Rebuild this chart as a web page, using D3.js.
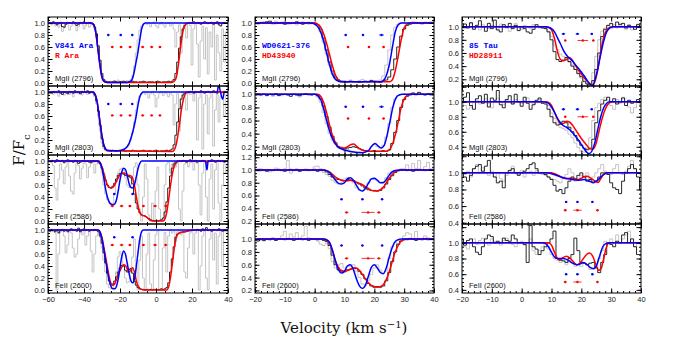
<!DOCTYPE html>
<html>
<head>
<meta charset="utf-8">
<script src="https://cdn.jsdelivr.net/npm/d3@7"></script>
<style>
  body { margin: 0; background: #fff; }
  svg { display: block; }
</style>
</head>
<body>
<div id="chart"></div>
<script>
"use strict";

// velocity bins of the observed spectra (km/s)
const velL = d3.range(-60, 41, 1);
const velMR = d3.range(-20, 41, 1);

// ---------- left column: V841 Ara (blue/grey) vs R Ara (red/black)
const blackL1 = [1.00,1.01,0.99,1.02,1.00,0.97,0.99,1.01,0.94,0.93,0.98,1.01,1.00,0.99,1.02,1.00,0.96,0.98,1.01,1.00,1.02,0.99,1.00,1.01,0.99,
  0.98,0.93,0.82,0.62,0.38,0.16,0.06,0.03,0.02,
  0.02,0.01,0.02,0.03,0.02,0.01,0.02,0.02,0.03,0.02,0.01,0.02,0.02,0.03,0.02,0.02,0.01,0.02,0.02,0.03,0.02,0.01,0.02,0.02,0.02,0.01,0.02,0.03,0.02,0.01,0.02,0.02,0.02,0.03,0.02,0.03,
  0.06,0.16,0.35,0.58,0.77,0.90,0.96,0.99,1.00,
  1.01,0.99,1.02,1.00,1.01,0.99,0.98,1.00,1.02,1.01,0.99,1.00,1.01,0.98,1.00,1.02,0.97,0.95,0.99,1.01,1.00,1.00];
const greyL1 = [0.98,1.00,0.97,1.01,0.95,0.99,0.93,0.97,0.86,0.92,0.99,0.97,0.88,0.95,1.00,0.97,0.87,0.94,1.01,0.98,0.90,0.96,0.99,0.93,0.97,
  0.97,0.90,0.78,0.55,0.30,0.12,0.05,0.03,0.02,
  0.02,0.03,0.01,0.04,0.02,0.05,0.02,0.03,0.01,0.02,0.04,0.03,0.06,
  0.12,0.28,0.50,0.72,0.88,0.95,0.98,
  1.00,0.97,1.01,0.94,0.99,1.02,0.96,0.92,0.98,1.01,0.97,0.93,0.99,1.00,0.95,0.98,
  0.90,0.60,0.85,0.97,0.50,0.92,0.99,0.75,1.00,0.96,0.30,0.90,0.98,0.65,0.10,0.70,0.95,0.40,0.92,0.15,0.85,0.60,0.98,0.05,0.80,0.50,0.20,0.90,0.35,0.85,0.95];
const blueL1 = [[-60,1],[-36,1],[-34.5,0.97],[-33.5,0.85],[-32.5,0.62],[-31.5,0.38],[-30.5,0.17],[-29.5,0.05],[-28.5,0.02],[-27,0.01],[-16,0.01],[-14,0.03],[-13,0.08],[-12,0.2],[-11,0.36],[-10,0.52],[-9,0.72],[-8,0.9],[-7,0.98],[-6,1],[40,1]];
const redL1 = [[-60,1],[-36,1],[-34.5,0.97],[-33.5,0.85],[-32.5,0.62],[-31.5,0.38],[-30.5,0.17],[-29.5,0.05],[-28.5,0.02],[-27,0.01],[9,0.01],[10.5,0.04],[11.5,0.12],[12.5,0.32],[13.5,0.56],[14.5,0.78],[15.5,0.92],[16.5,0.98],[18,1],[40,1]];

const blackL2 = [0.97,1.00,0.98,1.01,0.99,1.00,1.02,0.98,0.96,1.00,0.99,0.97,1.01,1.00,0.98,1.02,0.99,1.00,0.97,1.01,1.00,0.99,1.02,0.98,1.00,
  0.99,0.95,0.85,0.68,0.45,0.22,0.09,0.04,0.02,
  0.02,0.01,0.03,0.02,0.01,0.02,0.02,0.03,0.02,0.01,0.02,0.02,0.01,0.03,0.02,0.02,0.01,0.02,0.02,0.03,0.02,0.01,0.02,0.02,0.01,0.02,0.03,0.02,0.01,0.02,0.02,0.02,0.03,0.02,0.03,
  0.05,0.12,0.28,0.50,0.72,0.88,0.95,0.98,1.00,
  0.99,1.01,1.00,0.98,1.01,1.00,0.99,1.02,1.00,0.98,1.00,1.01,0.99,1.00,1.02,0.99,0.98,1.01,1.00,0.99,1.01,1.00,1.00];
const greyL2 = [0.99,0.97,1.00,0.96,1.01,0.98,0.93,0.99,1.00,0.95,0.98,1.01,0.96,0.99,0.92,0.98,1.00,0.97,1.01,0.95,0.99,1.00,0.96,0.98,1.00,
  0.98,0.92,0.80,0.60,0.35,0.15,0.06,0.03,0.02,
  0.02,0.03,0.02,0.01,0.03,0.02,0.04,0.03,0.05,0.06,0.08,
  0.12,0.20,0.32,0.50,0.70,0.85,0.93,0.97,
  1.00,0.96,0.99,0.90,0.97,1.01,0.95,0.75,0.90,0.98,1.00,0.94,0.99,0.97,0.92,0.98,
  0.95,0.45,0.80,0.97,0.35,0.90,1.00,0.92,0.70,0.98,0.96,1.00,0.85,0.98,0.20,0.90,0.97,0.05,0.80,0.95,0.30,0.90,0.99,0.10,0.70,0.96,0.50,0.92,1.00,0.60,0.95,1.00];
const blueL2 = [[-60,1],[-35,1],[-34,0.97],[-33,0.88],[-32,0.7],[-31,0.47],[-30,0.27],[-29,0.12],[-28,0.05],[-27,0.03],[-22,0.02],[-19,0.03],[-17,0.06],[-15,0.14],[-13.5,0.27],[-12,0.45],[-11,0.6],[-10,0.78],[-9,0.92],[-8,0.98],[-7,1],[34,1],[34.8,1.12],[35.8,1.0],[37,0.88],[38,1],[40,1]];
const redL2 = [[-60,1],[-35,1],[-34,0.97],[-33,0.88],[-32,0.7],[-31,0.47],[-30,0.27],[-29,0.12],[-28,0.05],[-27,0.02],[9,0.01],[10,0.03],[11,0.1],[12,0.25],[13,0.45],[14,0.68],[15,0.85],[16,0.95],[17,0.99],[18,1],[40,1]];

const blackL3 = [1.00,0.99,1.01,1.00,0.98,1.02,1.00,0.99,1.01,0.97,1.00,1.02,0.99,1.00,0.98,1.01,0.99,0.96,0.98,1.00,1.01,0.99,1.00,0.98,0.97,1.00,0.99,1.00,0.98,
  0.95,0.88,0.78,0.68,0.60,0.56,0.55,0.58,0.63,0.70,0.76,0.79,0.80,0.78,0.76,0.75,0.74,0.72,0.62,0.45,0.30,0.20,
  0.14,0.10,0.09,0.08,0.06,0.04,0.02,0.01,0.00,0.01,0.00,0.01,0.02,0.05,0.15,
  0.32,0.55,0.75,0.88,0.95,0.98,1.00,1.00,
  0.99,1.01,1.00,0.98,1.00,1.02,0.99,1.00,1.01,0.98,1.00,0.99,1.01,1.00,0.97,1.00,0.99,1.02,1.00,0.98,1.00,1.01,0.99,1.00,0.98,1.00,1.00];
const greyL3 = [0.98,1.00,0.97,0.92,0.55,0.35,0.70,0.95,0.85,0.62,0.90,0.98,0.75,0.50,0.45,0.80,0.97,0.92,0.70,0.88,0.99,0.95,0.72,0.90,0.98,1.00,0.80,0.95,0.97,
  0.95,0.80,0.60,0.45,0.35,0.30,0.28,0.30,0.45,0.65,0.80,0.86,0.88,0.84,0.72,0.60,0.56,0.60,0.75,0.90,0.97,0.60,0.20,
  0.00,0.40,0.95,0.70,0.10,0.00,0.30,0.00,0.50,0.90,0.20,0.00,0.00,0.60,0.95,0.98,0.80,0.95,0.99,0.90,0.97,0.20,0.00,0.50,0.95,0.99,0.90,0.97,1.00,0.85,0.98,0.96,0.60,0.10,0.80,0.97,0.40,0.00,0.70,0.95,0.20,0.85,0.99,0.30,0.00,0.60,0.95,0.80,0.97];
const blueL3 = [[-60,1],[-32,1],[-31,0.97],[-30,0.88],[-29,0.72],[-28,0.53],[-27,0.4],[-26,0.32],[-25,0.28],[-24,0.27],[-23,0.28],[-22,0.35],[-21,0.5],[-20,0.68],[-19,0.82],[-18,0.88],[-17,0.86],[-16,0.76],[-15,0.63],[-14,0.56],[-13,0.55],[-12,0.6],[-11,0.73],[-10,0.87],[-9,0.96],[-8,1],[27.5,1],[28.3,0.85],[29,1],[40,1]];
const redL3 = [[-60,1],[-32,1],[-31,0.97],[-30,0.9],[-29,0.8],[-28,0.69],[-27,0.6],[-26,0.56],[-25,0.55],[-24,0.56],[-23,0.6],[-22,0.66],[-21,0.72],[-20,0.77],[-19,0.8],[-18,0.8],[-17,0.79],[-16,0.77],[-15,0.76],[-14,0.75],[-13,0.72],[-12,0.6],[-11,0.42],[-10,0.25],[-9,0.14],[-8,0.1],[-7,0.09],[-6,0.08],[-5,0.06],[-4,0.03],[-3,0.01],[-2,0],[4,0],[5,0.04],[6,0.15],[7,0.35],[8,0.58],[9,0.77],[10,0.9],[11,0.96],[12,0.99],[13,1],[40,1]];

const blackL4 = [1.00,0.98,1.01,0.99,0.97,1.00,0.95,0.99,1.01,0.98,1.00,0.97,1.00,1.02,0.99,1.01,0.98,1.03,0.97,1.00,1.02,0.99,1.00,0.98,1.00,0.99,1.01,0.99,
  0.97,0.90,0.78,0.62,0.45,0.28,0.15,0.09,0.10,0.15,0.22,0.30,0.37,0.41,0.40,0.33,0.30,0.34,0.36,0.28,0.15,0.08,0.04,0.02,0.01,
  0.01,0.00,0.01,0.00,0.01,0.00,0.01,0.01,0.00,0.01,0.02,0.01,0.02,0.04,0.12,
  0.30,0.52,0.72,0.88,0.93,0.95,0.96,0.97,0.97,0.98,0.99,0.99,1.00,
  1.00,0.99,1.01,1.00,0.98,1.02,1.00,1.04,0.99,1.00,0.98,1.01,1.00,0.99,1.02,1.00,0.98,1.00,1.01,1.00];
const greyL4 = [0.98,1.00,0.97,1.00,0.95,0.00,0.60,0.97,1.00,0.90,0.62,0.75,0.98,0.95,0.70,0.55,0.60,0.85,0.98,0.92,1.00,0.75,0.90,0.97,0.65,0.30,0.60,0.90,
  0.95,0.88,0.70,0.50,0.30,0.10,0.04,0.02,0.03,0.10,0.30,0.55,0.64,0.58,0.40,0.20,0.12,0.14,0.30,0.55,0.85,0.40,0.00,0.50,0.90,
  0.20,0.00,0.60,0.95,0.10,0.00,0.50,0.92,0.98,0.00,0.00,0.70,0.96,0.30,0.90,1.00,0.95,0.98,0.80,0.97,0.99,0.92,0.98,0.30,0.20,0.70,0.95,0.99,0.60,0.95,1.00,0.00,0.40,0.90,0.98,0.20,0.00,0.85,1.00,0.50,0.95,0.10,0.90,1.00,0.40,0.98,0.97,1.00];
const blueL4 = [[-60,1],[-32,1],[-31,0.96],[-30,0.85],[-29,0.68],[-28,0.5],[-27,0.32],[-26,0.16],[-25,0.06],[-24,0.02],[-23,0.02],[-22,0.06],[-21,0.18],[-20,0.38],[-19,0.56],[-18,0.65],[-17,0.6],[-16,0.45],[-15,0.28],[-14,0.16],[-13,0.12],[-12,0.18],[-11,0.38],[-10,0.62],[-9,0.85],[-8,0.97],[-7,1],[40,1]];
const redL4 = [[-60,1],[-32,1],[-31,0.96],[-30,0.87],[-29,0.72],[-28,0.55],[-27,0.38],[-26,0.22],[-25,0.11],[-24,0.08],[-23,0.1],[-22,0.17],[-21,0.25],[-20,0.32],[-19,0.38],[-18,0.42],[-17,0.41],[-16,0.35],[-15,0.3],[-14,0.33],[-13,0.37],[-12,0.3],[-11,0.16],[-10,0.07],[-9,0.03],[-8,0.01],[-7,0],[6,0],[7,0.05],[8,0.2],[9,0.42],[10,0.66],[11,0.85],[12,0.93],[13,0.95],[15,0.965],[18,0.985],[22,1],[40,1]];

// ---------- middle column: WD0621-376 (blue/grey) vs HD43940 (red/black)
const blackM1 = [1.00,0.99,1.01,1.00,1.02,1.03,1.00,0.99,1.00,1.01,0.98,1.00,0.99,1.00,1.02,1.00,0.98,1.00,1.01,0.99,1.00,
  0.97,0.90,0.75,0.55,0.35,0.20,0.10,0.05,0.03,
  0.02,0.02,0.03,0.02,0.02,0.01,0.02,0.03,0.02,0.04,0.02,0.02,0.01,0.03,0.05,0.10,
  0.22,0.40,0.60,0.78,0.90,0.96,0.98,1.00,
  1.01,1.00,0.99,1.01,1.00,1.00,1.01];
const greyM1 = [1.01,0.98,1.00,1.02,0.99,1.01,0.98,1.03,1.00,0.99,1.02,0.98,1.00,1.01,0.97,1.00,1.02,1.00,0.98,1.01,
  0.99,0.95,0.85,0.68,0.48,0.30,0.15,0.07,
  0.05,0.03,0.04,0.02,0.05,0.03,0.02,0.04,0.06,0.02,0.03,0.05,0.02,0.03,0.05,0.12,
  0.30,0.55,0.80,0.93,0.98,1.00,
  1.01,0.99,1.00,1.02,0.99,1.00,0.98,1.01,1.00,1.02,1.00];
const blueM1 = [[-20,1],[-1,1],[0,0.98],[1,0.94],[2,0.85],[3,0.7],[4,0.5],[5,0.3],[6,0.14],[7,0.06],[8,0.03],[9,0.02],[22,0.02],[23,0.04],[24,0.12],[25,0.3],[26,0.58],[27,0.85],[28,0.97],[29,1],[40,1]];
const redM1 = [[-20,1],[0,1],[1,0.98],[2,0.93],[3,0.82],[4,0.66],[5,0.47],[6,0.28],[7,0.13],[8,0.05],[9,0.02],[18,0.02],[20,0.03],[22,0.02],[25,0.02],[26,0.05],[27,0.2],[28,0.45],[29,0.72],[30,0.92],[31,0.98],[32,1],[40,1]];

const blackM2 = [1.00,1.01,0.99,1.00,0.98,1.00,0.99,1.01,0.98,1.00,1.00,0.99,0.97,1.00,0.99,0.98,1.00,1.01,1.00,0.99,1.00,0.98,
  0.93,0.82,0.66,0.50,0.36,0.26,0.20,0.18,
  0.17,0.18,0.19,0.20,0.19,0.17,0.15,0.14,0.13,0.13,0.14,0.13,0.13,0.14,0.13,0.15,
  0.25,0.42,0.60,0.80,0.92,0.97,0.99,
  1.02,1.00,1.03,1.00,0.99,1.01,1.00,1.02];
const greyM2 = [0.99,1.00,0.98,1.01,0.99,1.00,0.97,1.00,0.99,0.98,1.00,0.99,1.00,1.01,0.98,0.96,0.99,1.00,0.98,0.99,1.00,
  0.96,0.88,0.72,0.55,0.40,0.30,0.24,0.18,
  0.20,0.14,0.16,0.12,0.13,0.10,0.12,0.11,0.14,0.13,0.20,0.24,0.20,0.17,0.22,0.35,
  0.55,0.80,0.93,0.98,1.00,1.01,
  0.99,1.00,1.02,0.98,1.00,1.01,0.99,1.00,1.02,1.00];
const blueM2 = [[-20,1],[0,1],[1,0.98],[2,0.92],[3,0.78],[4,0.6],[5,0.44],[6,0.32],[7,0.24],[8,0.19],[10,0.15],[13,0.12],[16,0.11],[18,0.14],[19.3,0.22],[20.3,0.25],[21.3,0.21],[22.3,0.18],[23.3,0.22],[24.3,0.38],[25.3,0.6],[26.3,0.82],[27.3,0.95],[28.3,0.99],[29.5,1],[40,1]];
const redM2 = [[-20,1],[1,1],[2,0.97],[3,0.88],[4,0.72],[5,0.53],[6,0.37],[7,0.26],[8,0.2],[9,0.18],[10,0.18],[11,0.2],[12,0.23],[13,0.24],[14,0.21],[15,0.17],[16,0.15],[18,0.13],[24,0.13],[25,0.15],[26,0.23],[27,0.38],[28,0.58],[29,0.8],[30,0.93],[31,0.98],[32,1],[40,1]];

const blackM3 = [1.00,1.01,0.99,1.00,0.98,1.00,0.99,1.00,1.01,0.99,0.98,1.00,1.01,0.99,1.00,0.98,1.00,1.01,0.99,1.00,1.01,0.98,1.00,0.99,
  0.97,0.93,0.89,0.86,0.85,0.84,0.83,0.85,0.84,0.83,0.80,0.78,0.75,0.72,0.69,0.68,0.68,0.67,0.68,0.72,0.78,0.85,0.91,0.96,0.99,
  1.00,1.01,0.99,1.00,0.98,1.00,1.01,1.00,0.99,1.00,1.01,1.00];
const greyM3 = [1.00,0.98,1.02,0.99,1.01,0.97,1.00,1.03,1.00,0.99,1.02,1.15,0.95,1.00,1.02,0.98,1.00,0.99,1.01,1.00,
  1.05,1.06,1.02,0.96,0.93,
  0.90,0.84,0.80,0.78,0.80,0.86,0.88,0.85,0.80,0.72,0.68,0.67,0.72,0.80,0.86,0.85,0.83,0.80,0.82,0.88,0.95,0.98,
  1.00,0.98,1.02,1.00,1.08,0.99,1.10,1.02,1.15,1.00,1.05,1.12,1.00,1.02];
const blueM3 = [[-20,1],[3,1],[4,0.99],[5,0.96],[6,0.9],[7,0.84],[8,0.79],[9,0.78],[10,0.8],[11,0.86],[12,0.88],[13,0.84],[14,0.76],[15,0.69],[16,0.67],[17,0.71],[18,0.79],[19,0.86],[20,0.87],[21,0.84],[22,0.8],[23,0.8],[24,0.85],[25,0.92],[26,0.97],[27,0.99],[28,1],[40,1]];
const redM3 = [[-20,1],[3,1],[4,0.99],[5,0.97],[6,0.93],[7,0.89],[8,0.86],[9,0.84],[10,0.83],[11,0.83],[12,0.84],[13,0.83],[14,0.81],[15,0.79],[16,0.77],[17,0.74],[18,0.71],[19,0.68],[20,0.67],[21,0.67],[22,0.69],[23,0.73],[24,0.8],[25,0.87],[26,0.93],[27,0.97],[28,0.99],[29,1],[40,1]];

const blackM4 = [0.98,0.97,0.99,0.98,1.00,0.99,1.01,0.98,1.00,1.00,0.99,1.01,1.00,0.98,1.00,1.01,0.99,1.00,0.98,1.00,1.00,0.99,1.00,0.98,
  0.96,0.90,0.75,0.60,0.52,0.50,0.49,0.52,0.53,0.55,0.54,0.50,0.45,0.38,0.31,0.27,0.25,0.26,0.25,0.27,0.35,0.48,0.65,0.80,0.92,0.97,
  1.00,0.99,1.01,1.00,0.98,1.00,1.00,1.01,0.99,1.00,1.00];
const greyM4 = [1.00,0.98,1.01,0.97,1.00,0.99,1.02,0.98,1.00,1.05,1.12,1.00,1.08,1.03,1.10,1.00,1.05,1.20,1.02,1.00,
  1.00,0.97,0.92,0.90,
  0.93,0.85,0.65,0.55,0.60,0.62,0.55,0.58,0.57,0.60,0.50,0.40,0.30,0.28,0.35,0.45,0.55,0.60,0.52,0.47,0.50,0.70,0.88,0.95,0.92,
  0.98,1.05,1.10,1.08,1.00,1.12,1.00,0.98,1.05,1.02,1.00,1.00];
const blueM4 = [[-20,1],[3,1],[4,0.99],[5,0.95],[6,0.82],[7,0.65],[8,0.52],[9,0.47],[10,0.5],[11,0.58],[12,0.6],[13,0.52],[14,0.38],[15,0.27],[16,0.23],[17,0.28],[18,0.42],[19,0.56],[20,0.6],[21,0.55],[22,0.48],[23,0.46],[24,0.55],[25,0.72],[26,0.87],[27,0.96],[28,0.99],[29,1],[40,1]];
const redM4 = [[-20,1],[3,1],[4,0.98],[5,0.93],[6,0.82],[7,0.66],[8,0.56],[9,0.51],[10,0.5],[11,0.51],[12,0.53],[13,0.55],[14,0.55],[15,0.51],[16,0.45],[17,0.38],[18,0.32],[19,0.28],[20,0.26],[21,0.25],[22,0.26],[23,0.29],[24,0.37],[25,0.49],[26,0.65],[27,0.8],[28,0.9],[29,0.97],[30,0.99],[31,1],[40,1]];

// ---------- right column: 85 Tau (blue/grey) vs HD28911 (red/black)
const blackR1 = [1.00,1.04,0.98,1.06,0.96,1.02,1.09,1.00,0.93,1.05,0.97,1.10,0.95,0.92,1.03,0.99,1.05,0.97,1.02,0.94,1.00,0.97,0.92,0.90,0.96,1.03,1.00,0.98,
  0.97,0.92,0.80,0.62,0.50,0.47,0.49,0.53,0.47,0.40,0.35,0.29,0.24,0.17,0.13,0.12,0.18,0.35,0.60,0.85,0.96,1.02,1.05,
  1.00,1.07,1.03,1.05,0.98,1.02,1.00,0.96,1.03,1.00];
const greyR1 = [1.02,0.97,1.00,1.05,0.98,1.00,0.95,1.03,1.00,0.97,1.02,1.00,0.96,1.04,1.00,0.98,0.93,0.99,1.05,1.00,0.96,1.02,1.00,0.97,1.03,1.00,0.98,1.00,
  0.98,0.93,0.85,0.72,0.65,0.58,0.55,0.50,0.46,0.42,0.35,0.28,0.22,0.16,0.13,0.14,0.30,0.55,0.80,0.93,0.98,1.02,0.97,
  1.03,0.98,1.05,1.00,0.96,1.03,0.95,1.00,1.04,0.98];
const blueR1 = [[-20,1],[8,1],[9,0.99],[10,0.97],[11,0.92],[12,0.83],[13,0.74],[14,0.64],[15,0.57],[16,0.52],[17,0.48],[18,0.42],[19,0.37],[20,0.31],[21,0.25],[22,0.18],[23,0.12],[23.8,0.11],[24.5,0.18],[25.5,0.36],[26.5,0.58],[27.5,0.78],[28.5,0.92],[29.5,0.98],[30.5,1],[40,1]];
const redR1 = [[-20,1],[8,1],[9,0.99],[10,0.95],[11,0.82],[12,0.62],[13,0.5],[14,0.48],[15,0.5],[16,0.53],[17,0.49],[18,0.41],[19,0.34],[20,0.28],[21,0.22],[22,0.17],[23,0.13],[23.8,0.12],[24.5,0.16],[25.5,0.34],[26.5,0.62],[27.5,0.84],[28.5,0.95],[29.5,0.99],[30.5,1],[40,1]];

const blackR2 = [1.00,1.06,1.12,0.95,0.90,1.04,1.08,0.98,1.10,0.93,1.05,1.02,1.15,0.96,0.92,1.03,1.08,0.97,1.10,1.00,0.94,1.06,0.98,0.90,0.96,1.02,1.05,0.98,
  0.97,0.90,0.80,0.72,0.69,0.70,0.74,0.72,0.66,0.60,0.55,0.48,0.42,0.38,0.36,0.38,0.50,0.72,0.88,0.97,1.02,1.06,1.00,
  1.04,0.97,1.00,1.05,0.95,1.02,0.98,1.00,1.03,0.99];
const greyR2 = [0.98,0.95,0.90,0.93,1.00,1.02,0.97,1.00,1.04,0.98,0.92,1.00,1.05,0.99,0.96,1.02,1.00,0.97,1.03,1.00,0.98,1.02,1.05,1.00,0.97,1.00,1.03,1.00,
  1.00,0.95,0.85,0.78,0.72,0.66,0.64,0.62,0.57,0.52,0.45,0.39,0.34,0.33,0.38,0.52,0.75,0.92,0.98,1.03,1.06,1.02,0.95,
  0.90,1.03,0.98,1.06,1.00,0.93,0.85,0.92,1.00,0.96];
const blueR2 = [[-20,1],[7,1],[8,0.995],[9,0.98],[10,0.93],[11,0.86],[12,0.78],[13,0.72],[14,0.68],[15,0.66],[16,0.63],[17,0.59],[18,0.54],[19,0.49],[20,0.43],[21,0.37],[22,0.32],[22.7,0.31],[23.5,0.34],[24.5,0.45],[25.5,0.63],[26.5,0.8],[27.5,0.92],[28.5,0.98],[29.5,1],[40,1]];
const redR2 = [[-20,1],[8,1],[9,0.99],[10,0.95],[11,0.86],[12,0.77],[13,0.71],[14,0.71],[15,0.74],[16,0.73],[17,0.69],[18,0.63],[19,0.57],[20,0.51],[21,0.46],[22,0.41],[23,0.37],[24,0.37],[25,0.45],[26,0.62],[27,0.78],[28,0.9],[29,0.97],[30,0.995],[31,1],[40,1]];

const blackR3 = [1.00,0.95,0.90,0.97,1.05,1.08,1.10,1.02,1.08,1.15,1.00,0.95,0.88,0.90,0.82,1.00,1.03,1.05,1.00,0.97,
  1.00,1.02,1.05,1.10,1.12,1.05,1.00,1.00,0.98,0.95,0.92,0.85,0.78,0.80,0.75,0.82,0.90,0.95,0.93,0.97,
  1.00,0.95,0.90,0.92,0.88,0.90,0.95,1.00,1.00,0.98,0.88,0.82,0.80,0.75,0.90,1.00,1.05,1.10,1.05,0.95,0.80];
const greyR3 = [1.00,0.98,1.02,0.95,1.05,1.10,1.00,1.06,1.00,0.97,1.02,0.95,1.00,0.93,0.90,0.97,1.02,1.08,1.00,0.98,
  1.03,0.95,1.00,1.02,0.97,1.03,1.00,0.98,0.97,0.95,0.93,0.92,0.90,0.88,0.95,0.98,1.05,1.00,0.90,0.92,
  0.97,0.95,1.00,0.92,0.95,1.00,1.05,1.10,1.02,1.00,0.98,1.05,1.10,1.00,0.98,1.02,1.08,1.15,1.05,1.00,0.98];
const blueR3 = [[-20,1],[8,1],[10,0.99],[12,0.965],[14,0.94],[16,0.925],[18,0.915],[19,0.91],[20,0.915],[21,0.92],[22,0.91],[23,0.895],[24,0.885],[25,0.9],[26,0.93],[27,0.965],[28,0.99],[29,1],[40,1]];
const redR3 = [[-20,1],[10,1],[11,0.99],[12,0.975],[13,0.955],[14,0.935],[15,0.93],[16,0.935],[17,0.935],[18,0.925],[19,0.92],[20,0.935],[21,0.955],[22,0.96],[23,0.94],[24,0.915],[25,0.89],[25.7,0.885],[26.5,0.93],[27.5,0.985],[28.5,1],[40,1]];

const blackR4 = [1.05,0.97,1.03,1.05,0.95,0.88,0.85,0.95,1.05,1.10,1.08,1.00,1.02,1.00,1.06,1.03,1.02,1.10,1.05,1.00,
  1.00,0.98,0.75,1.22,0.95,0.92,0.85,0.90,0.95,1.00,1.05,1.15,0.80,0.78,0.77,0.75,0.80,0.85,1.06,0.90,
  0.75,0.74,0.72,0.74,0.75,0.68,0.62,0.75,0.85,1.00,0.98,0.95,1.02,1.00,1.10,1.13,1.00,1.05,0.95,0.85,0.85];
const greyR4 = [1.00,0.95,0.92,1.00,1.05,0.98,1.03,1.06,1.00,0.97,1.05,1.02,1.00,0.97,1.03,1.06,1.00,0.98,0.95,1.00,
  1.02,0.97,1.00,1.05,0.90,0.85,0.90,0.95,1.00,0.92,0.85,0.80,0.78,0.75,0.80,0.72,0.78,0.75,0.70,0.72,
  0.70,0.74,0.72,0.66,0.68,0.70,0.80,0.90,1.02,1.00,1.05,1.00,1.10,1.00,1.05,1.10,1.15,1.00,0.95,1.00,0.98];
const blueR4 = [[-20,1],[7,1],[8,0.99],[9,0.95],[10,0.88],[11,0.82],[12,0.8],[14,0.8],[15.5,0.78],[17,0.74],[18.5,0.72],[19.5,0.73],[20.7,0.75],[22,0.72],[23.2,0.68],[24.2,0.67],[25.2,0.72],[26.2,0.84],[27.2,0.95],[28.2,0.99],[29.5,1],[40,1]];
const redR4 = [[-20,1],[9,1],[10,0.97],[11,0.88],[12,0.8],[12.8,0.78],[13.8,0.81],[15,0.83],[16.3,0.8],[17.5,0.75],[18.5,0.72],[19.5,0.74],[20.7,0.8],[22,0.86],[22.8,0.87],[23.8,0.83],[24.8,0.73],[25.8,0.65],[26.6,0.67],[27.5,0.8],[28.3,0.93],[29,0.99],[30,1],[40,1]];

// ---------- fitted components: [velocity, error]
const compBlueL_Mg = [[-26.5,0.6],[-19.6,0.6],[-13.2,0.6]];
const compRedL_Mg = [[-24.3,0.8],[-19.4,0.8],[-14.4,0.8],[-7.4,0.8],[-2.4,0.8],[2.2,0.8]];
const compBlueL_Fe = [[-23.2,0.6],[-13,0.6]];
const compRedL_Fe = [[-24.3,1],[-19.1,1],[-14.5,0.8],[-7,0.8],[-0.5,1],[5.4,0.8]];
const compBlueM = [[10.4,0.4],[16.2,0.4],[22.4,0.8]];
const compRedM_Mg = [[11.2,0.4],[18.2,0.4],[23.1,0.4]];
const compBlueM_Fe = [[9.0,0.4],[16.0,0.4],[22.6,0.4]];
const compRedM_Fe = [[10.7,0.6],[17.9,2.2],[21.5,0.6]];
const compBlueR_Mg = [[14.0,0.6],[18.7,0.6],[23.5,0.4]];
const compRedR_Mg = [[14.6,0.4],[20.5,1.8],[24.0,0.4]];
const compBlueR_Fe = [[14.9,0.4],[18.7,0.4],[23.7,0.4]];
const compRedR_Fe = [[14.6,0.5],[18.7,1.4],[25.4,0.4]];

// ---------- panel text
const lineLabels = ["MgII (2796)", "MgII (2803)", "FeII (2586)", "FeII (2600)"];
const starBlue = {L: "V841 Ara", M: "WD0621-376", R: "85 Tau"};
const starRed = {L: "R Ara", M: "HD43940", R: "HD28911"};

const columns = {
  L: {domain: [-60, 40], range: [48, 228], major: 20, minor: 5, grid: velL},
  M: {domain: [-20, 40], range: [255, 434], major: 10, minor: 2, grid: velMR},
  R: {domain: [-20, 40], range: [462, 641], major: 10, minor: 2, grid: velMR}
};
const rowEdges = [17, 86, 155, 224, 293];

const panels = [
  {col: "L", row: 0, y: [-0.05, 1.1], labels: [0, 0.2, 0.4, 0.6, 0.8, 1.0], black: blackL1, grey: greyL1, blue: blueL1, red: redL1, cb: compBlueL_Mg, cr: compRedL_Mg, yb: 0.8, yr: 0.6},
  {col: "L", row: 1, y: [-0.05, 1.1], labels: [0, 0.2, 0.4, 0.6, 0.8, 1.0], black: blackL2, grey: greyL2, blue: blueL2, red: redL2, cb: compBlueL_Mg, cr: compRedL_Mg, yb: 0.8, yr: 0.61},
  {col: "L", row: 2, y: [-0.05, 1.1], labels: [0, 0.2, 0.4, 0.6, 0.8, 1.0], black: blackL3, grey: greyL3, blue: blueL3, red: redL3, cb: compBlueL_Fe, cr: compRedL_Fe, yb: 0.45, yr: 0.25},
  {col: "L", row: 3, y: [-0.05, 1.1], labels: [0, 0.2, 0.4, 0.6, 0.8, 1.0], black: blackL4, grey: greyL4, blue: blueL4, red: redL4, cb: compBlueL_Fe, cr: compRedL_Fe, yb: 0.88, yr: 0.75},
  {col: "M", row: 0, y: [-0.05, 1.1], labels: [0, 0.2, 0.4, 0.6, 0.8, 1.0], black: blackM1, grey: greyM1, blue: blueM1, red: redM1, cb: compBlueM, cr: compRedM_Mg, yb: 0.8, yr: 0.6},
  {col: "M", row: 1, y: [0.074, 1.127], labels: [0.2, 0.4, 0.6, 0.8, 1.0], black: blackM2, grey: greyM2, blue: blueM2, red: redM2, cb: compBlueM, cr: compRedM_Mg, yb: 0.81, yr: 0.63},
  {col: "M", row: 2, y: [0.153, 1.235], labels: [0.2, 0.4, 0.6, 0.8, 1.0, 1.2], black: blackM3, grey: greyM3, blue: blueM3, red: redM3, cb: compBlueM_Fe, cr: compRedM_Fe, yb: 0.54, yr: 0.335},
  {col: "M", row: 3, y: [0.16, 1.235], labels: [0.2, 0.4, 0.6, 0.8, 1.0], black: blackM4, grey: greyM4, blue: blueM4, red: redM4, cb: compBlueM_Fe, cr: compRedM_Fe, yb: 0.9, yr: 0.7},
  {col: "R", row: 0, y: [0.098, 1.147], labels: [0.2, 0.4, 0.6, 0.8, 1.0], black: blackR1, grey: greyR1, blue: blueR1, red: redR1, cb: compBlueR_Mg, cr: compRedR_Mg, yb: 0.89, yr: 0.79},
  {col: "R", row: 1, y: [0.29, 1.21], labels: [0.4, 0.6, 0.8, 1.0], black: blackR2, grey: greyR2, blue: blueR2, red: redR2, cb: compBlueR_Mg, cr: compRedR_Mg, yb: 0.9, yr: 0.8},
  {col: "R", row: 2, y: [0.384, 1.215], labels: [0.4, 0.6, 0.8, 1.0], black: blackR3, grey: greyR3, blue: blueR3, red: redR3, cb: compBlueR_Fe, cr: compRedR_Fe, yb: 0.65, yr: 0.55},
  {col: "R", row: 3, y: [0.36, 1.24], labels: [0.4, 0.6, 0.8, 1.0], black: blackR4, grey: greyR4, blue: blueR4, red: redR4, cb: compBlueR_Fe, cr: compRedR_Fe, yb: 0.6, yr: 0.5}
];

const BLUE = "#0000ff", RED = "#ff0000", GREY = "#c4c4c4";
const tickFont = "Liberation Sans, Arial, sans-serif";
const fmt1 = d3.format(".1f");

const svg = d3.select("#chart").append("svg")
  .attr("width", 690)
  .attr("height", 345);

panels.forEach((p, i) => {
  const col = columns[p.col];
  const top = rowEdges[p.row], bottom = rowEdges[p.row + 1];
  const [x0, x1] = col.range;
  const x = d3.scaleLinear().domain(col.domain).range(col.range);
  const y = d3.scaleLinear().domain(p.y).range([bottom, top]);

  const g = svg.append("g");

  const clipId = "clip" + i;
  svg.append("clipPath").attr("id", clipId)
    .append("rect").attr("x", x0).attr("y", top).attr("width", x1 - x0).attr("height", bottom - top);

  const plot = g.append("g").attr("clip-path", `url(#${clipId})`);

  const stepLine = d3.line().x(d => x(d[0])).y(d => y(d[1])).curve(d3.curveStep);
  const smoothLine = d3.line().x(d => x(d[0])).y(d => y(d[1])).curve(d3.curveMonotoneX);

  plot.append("path").datum(d3.zip(col.grid, p.grey))
    .attr("d", stepLine).attr("fill", "none").attr("stroke", GREY).attr("stroke-width", 1);
  plot.append("path").datum(d3.zip(col.grid, p.black))
    .attr("d", stepLine).attr("fill", "none").attr("stroke", "#111").attr("stroke-width", 0.9);
  plot.append("path").datum(p.red)
    .attr("d", smoothLine).attr("fill", "none").attr("stroke", RED).attr("stroke-width", 1.5);
  plot.append("path").datum(p.blue)
    .attr("d", smoothLine).attr("fill", "none").attr("stroke", BLUE).attr("stroke-width", 1.5);

  // component markers
  [[p.cb, p.yb, BLUE], [p.cr, p.yr, RED]].forEach(([comps, level, color]) => {
    const mg = plot.append("g");
    mg.selectAll("line").data(comps).join("line")
      .attr("x1", d => x(d[0] - d[1])).attr("x2", d => x(d[0] + d[1]))
      .attr("y1", y(level)).attr("y2", y(level))
      .attr("stroke", color).attr("stroke-width", 0.8);
    mg.selectAll("circle").data(comps).join("circle")
      .attr("cx", d => x(d[0])).attr("cy", y(level)).attr("r", 1.2)
      .attr("fill", color);
  });

  // ticks (inward, IDL style)
  const yd = p.y;
  const yMajor = d3.range(0, 13).map(k => k / 5).filter(v => v >= yd[0] && v <= yd[1]);
  const yMinor = d3.range(Math.ceil(yd[0] * 20), Math.floor(yd[1] * 20) + 1).map(k => k / 20);
  const xMajor = d3.range(col.domain[0], col.domain[1] + 0.1, col.major);
  const xMinor = d3.range(col.domain[0], col.domain[1] + 0.1, col.minor);

  const clean = sel => sel.call(s => s.select(".domain").remove())
    .attr("font-family", tickFont).attr("font-size", 7.5);

  g.append("g").attr("transform", `translate(${x0},0)`)
    .call(d3.axisLeft(y).tickValues(yMinor).tickSize(-2).tickFormat("")).call(clean);
  g.append("g").attr("transform", `translate(${x0},0)`)
    .call(d3.axisLeft(y).tickValues(yMajor).tickSizeInner(-4.5).tickSizeOuter(0).tickPadding(3)
      .tickFormat(v => p.labels.some(l => Math.abs(l - v) < 1e-6) ? fmt1(v) : ""))
    .call(clean);
  g.append("g").attr("transform", `translate(${x1},0)`)
    .call(d3.axisRight(y).tickValues(yMinor).tickSize(-2).tickFormat("")).call(clean);
  g.append("g").attr("transform", `translate(${x1},0)`)
    .call(d3.axisRight(y).tickValues(yMajor).tickSize(-4.5).tickFormat("")).call(clean);

  g.append("g").attr("transform", `translate(0,${top})`)
    .call(d3.axisTop(x).tickValues(xMinor).tickSize(-2).tickFormat("")).call(clean);
  g.append("g").attr("transform", `translate(0,${top})`)
    .call(d3.axisTop(x).tickValues(xMajor).tickSize(-4.5).tickFormat("")).call(clean);
  g.append("g").attr("transform", `translate(0,${bottom})`)
    .call(d3.axisBottom(x).tickValues(xMinor).tickSize(-2).tickFormat("")).call(clean);
  g.append("g").attr("transform", `translate(0,${bottom})`)
    .call(d3.axisBottom(x).tickValues(xMajor).tickSizeInner(-4.5).tickSizeOuter(0).tickPadding(4)
      .tickFormat(p.row === 3 ? d3.format("d") : ""))
    .call(clean);

  g.selectAll(".tick text").attr("fill", "#222");

  // frame
  g.append("rect")
    .attr("x", x0).attr("y", top).attr("width", x1 - x0).attr("height", bottom - top)
    .attr("fill", "none").attr("stroke", "#000").attr("stroke-width", 1);

  // transition label
  g.append("text")
    .attr("x", x0 + 7).attr("y", bottom - 5)
    .attr("font-family", tickFont).attr("font-size", 7.5).attr("fill", "#111")
    .text(lineLabels[p.row]);

  // star names on the top row
  if (p.row === 0) {
    g.append("text").attr("x", x0 + 7).attr("y", 48)
      .attr("font-family", "Liberation Mono, monospace").attr("font-weight", "bold")
      .attr("font-size", 8).attr("fill", BLUE).text(starBlue[p.col]);
    g.append("text").attr("x", x0 + 7).attr("y", 58)
      .attr("font-family", "Liberation Mono, monospace").attr("font-weight", "bold")
      .attr("font-size", 8).attr("fill", RED).text(starRed[p.col]);
  }
});

// axis titles
const yTitle = svg.append("text")
  .attr("transform", "translate(24,150) rotate(-90)")
  .attr("text-anchor", "middle")
  .attr("font-family", "DejaVu Serif, serif")
  .attr("font-size", 15)
  .attr("fill", "#111");
yTitle.append("tspan").text("F/F");
yTitle.append("tspan").attr("baseline-shift", "sub").attr("font-size", 10).text("c");

const xTitle = svg.append("text")
  .attr("x", 344).attr("y", 333)
  .attr("text-anchor", "middle")
  .attr("font-family", "DejaVu Serif, serif")
  .attr("font-size", 15)
  .attr("fill", "#111");
xTitle.append("tspan").text("Velocity (km s");
xTitle.append("tspan").attr("baseline-shift", "super").attr("font-size", 10).text("\u22121");
xTitle.append("tspan").text(")");
</script>
</body>
</html>
